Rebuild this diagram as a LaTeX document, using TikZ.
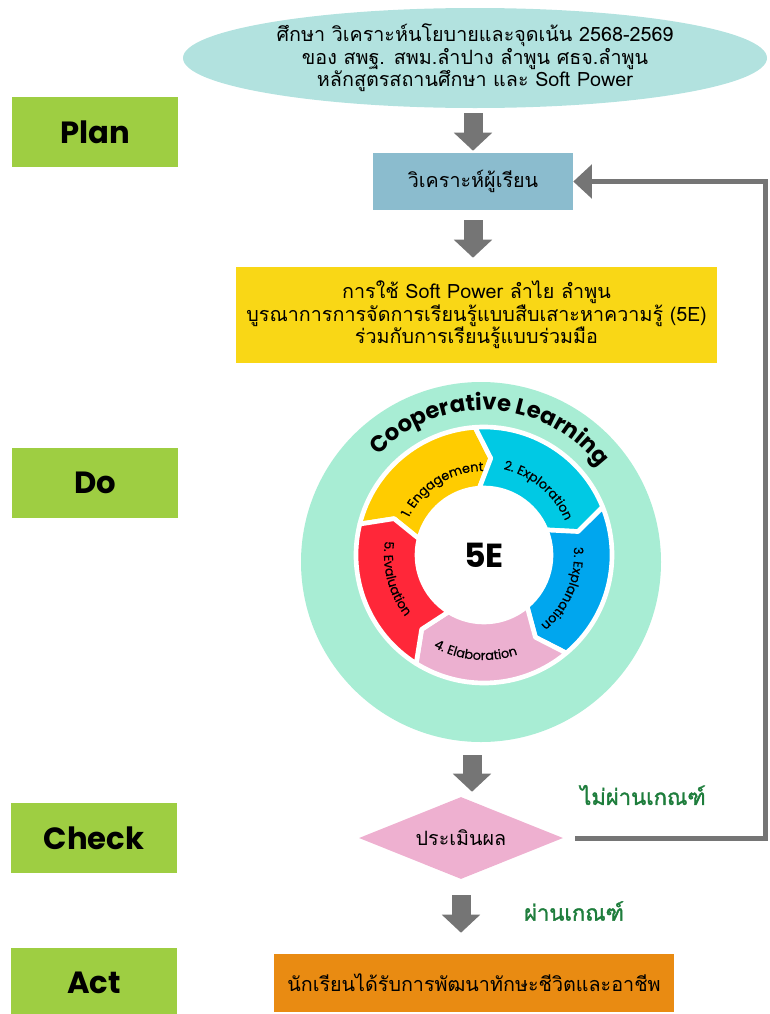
\documentclass[tikz,border=0pt]{standalone}
\usepackage{fontspec}
\setmainfont{Poppins}
\newfontfamily\thaifont[Script=Thai]{Loma}
\newfontfamily\thaibold[Script=Thai,FakeBold=1.6]{Loma}
\newfontfamily\stagefamily[FakeBold=0.5]{Poppins}
\usetikzlibrary{positioning,shapes.geometric,arrows.meta,decorations.text}

\definecolor{plangreen}{RGB}{158,206,66}
\definecolor{studyteal}{RGB}{178,226,223}
\definecolor{learnerblue}{RGB}{139,188,206}
\definecolor{taskyellow}{RGB}{249,215,22}
\definecolor{coopmint}{RGB}{168,237,212}
\definecolor{segyellow}{RGB}{255,204,0}
\definecolor{segcyan}{RGB}{0,201,228}
\definecolor{segblue}{RGB}{0,166,238}
\definecolor{segpink}{RGB}{236,176,208}
\definecolor{segred}{RGB}{255,39,57}
\definecolor{evalpink}{RGB}{238,176,208}
\definecolor{actorange}{RGB}{233,139,18}
\definecolor{arrowgray}{RGB}{117,117,117}
\definecolor{passgreen}{RGB}{30,125,60}

\newcommand\thaitext{\thaifont\fontsize{14.8}{17}\selectfont}
\newcommand\stagefont{\stagefamily\fontsize{9.6}{11}\selectfont}
\newcommand\coopfont{\bfseries\fontsize{17}{20}\selectfont}

\begin{document}
\begin{tikzpicture}[x=0.75pt, y=0.75pt,
    phase/.style={fill=plangreen, minimum width=124.5pt, minimum height=53pt, inner sep=0pt,
      font=\bfseries\fontsize{23}{23}\selectfont},
    thaibox/.style={inner sep=0pt, align=center, font=\thaitext},
    flow/.style={arrowgray, line width=14.25pt, -{Triangle[length=13.5pt,width=28pt]}},
    back/.style={arrowgray, line width=3.75pt, -{Triangle[length=14pt,width=25pt]}},
    verdict/.style={text=passgreen, font=\thaibold\fontsize{16.5}{18}\selectfont},
    seg/.style={fill=#1, draw=white, line width=3.5pt, line join=round},
    stagelabel/.style={decorate, decoration={text along path, text align=center, text={|\stagefont|#1}}}]
\useasboundingbox (0,0) rectangle (769,-1014);

\node[phase] (plan) at (95,-132) {Plan};
\node[phase] (do) at (95,-483) {Do};
\node[phase] (checkphase) at (94,-838) {Check};
\node[phase] (act) at (94,-983) {Act};

\node[thaibox, ellipse, fill=studyteal, minimum width=438pt, minimum height=75pt] (study) at (475,-58)
  {ศึกษา วิเคราะห์นโยบายและจุดเน้น 2568-2569\\ของ สพฐ. สพม.ลำปาง ลำพูน ศธจ.ลำพูน\\หลักสูตรสถานศึกษา และ Soft Power};
\node[thaibox, fill=learnerblue, minimum width=150pt, minimum height=42.75pt] (learner) at (473,-181.5) {วิเคราะห์ผู้เรียน};
\node[thaibox, fill=taskyellow, minimum width=360.75pt, minimum height=72pt] (task) at (476.5,-315)
  {การใช้ Soft Power ลำไย ลำพูน\\บูรณาการการจัดการเรียนรู้แบบสืบเสาะหาความรู้ (5E)\\ร่วมกับการเรียนรู้แบบร่วมมือ};

\node[circle, fill=coopmint, minimum size=270pt, inner sep=0pt] (cycle) at (481,-562) {};
\begin{scope}[shift={(484,-555)}]
  \fill[white] (0,0) circle[radius=70];
  \foreach \a/\b/\c in {166/94/segyellow, 94/22/segcyan, 22/-50/segblue, -50/-122/segpink, -122/-194/segred}
    \filldraw[seg=\c] (\a:128) arc[start angle=\a, end angle=\b, radius=128] -- (\b-8:97) -- (\b:67)
      arc[start angle=\b, end angle=\a, radius=67] -- (\a-8:97) -- cycle;
  \path[stagelabel={1. Engagement}] (162:84) arc[start angle=162, end angle=82, radius=84];
  \path[stagelabel={2. Exploration}] (90:88) arc[start angle=90, end angle=10, radius=88];
  \path[stagelabel={3. Explanation}] (17:90) arc[start angle=17, end angle=-63, radius=90];
  \path[stagelabel={4. Elaboration}] (-135:105) arc[start angle=-135, end angle=-55, radius=105];
  \path[stagelabel={5. Evaluation}] (155:100) arc[start angle=155, end angle=235, radius=100];
  \path[decorate, decoration={text along path, text align=center, text={|\coopfont|Cooperative Learning}}]
    (150:145) arc[start angle=150, end angle=24, radius=145];
  \node[font=\bfseries\fontsize{25}{25}\selectfont] (fiveE) at (0,0) {5E};
\end{scope}

\node[thaibox, diamond, fill=evalpink, aspect=2.49, minimum width=153pt, minimum height=61.5pt] (check) at (461,-838) {ประเมินผล};
\node[thaibox, fill=actorange, minimum width=300pt, minimum height=43.5pt] (result) at (474,-983)
  {นักเรียนได้รับการพัฒนาทักษะชีวิตและอาชีพ};

\draw[flow, shorten <=3.75pt, shorten >=1.5pt] (learner.north |- study.south) -- (learner.north);
\draw[flow, shorten <=7.5pt, shorten >=6.75pt] (learner.south) -- (learner.south |- task.north);
\draw[flow, shorten <=9.75pt, shorten >=3.75pt] ([xshift=-6.75pt]cycle.south) -- ([xshift=-6.75pt]cycle.south |- check.north);
\draw[flow, shorten <=12pt, shorten >=15.75pt] (check.south) -- (check.south |- result.north);

\coordinate (turn) at (765,-181.5);
\draw[back] ([xshift=9pt]check.east) -| (turn) -- (learner.east);

\node[verdict] (fail) at (643,-795) {ไม่ผ่านเกณฑ์};
\node[verdict] (pass) at (574,-911) {ผ่านเกณฑ์};
\end{tikzpicture}
\end{document}
